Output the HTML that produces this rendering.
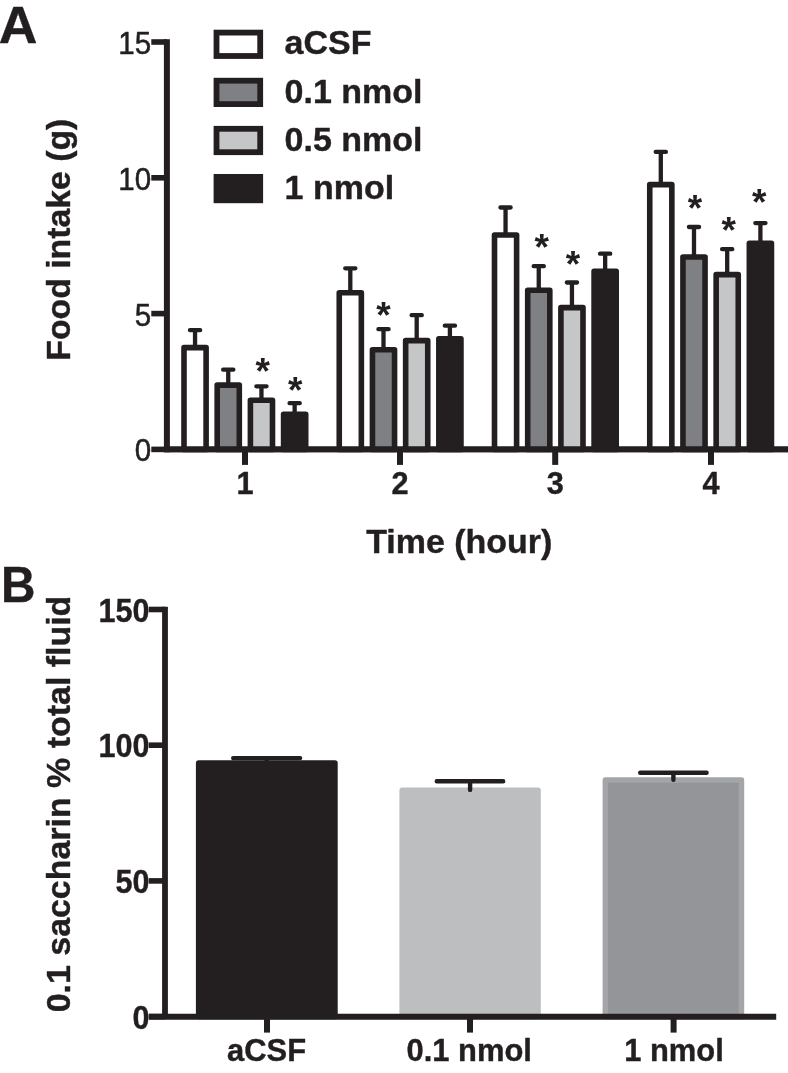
<!DOCTYPE html>
<html lang="en"><head><meta charset="utf-8"><title>Figure</title>
<style>html,body{margin:0;padding:0;background:#fff;}svg{display:block;will-change:transform;}text{font-family:'Liberation Sans', sans-serif;fill:#231f20;stroke:#231f20;stroke-width:0.5px;stroke-linejoin:round;}.b{font-weight:bold;stroke-width:0.4px;}.s{font-weight:bold;stroke:none;}</style></head><body>
<svg width="788" height="1073" viewBox="0 0 788 1073">
<rect width="788" height="1073" fill="#fff"/>
<text class="b" transform="translate(-1.20 42.60) scale(1.0300 1)" font-size="52.00" text-anchor="start">A</text>
<g stroke="#231f20" fill="none">
<path stroke-width="6.0" d="M166.90 39.20 V452.20"/>
<path stroke-width="5.6" d="M151.3 449.40 H166.90"/>
<path stroke-width="5.6" d="M151.3 313.60 H166.90"/>
<path stroke-width="5.6" d="M151.3 177.80 H166.90"/>
<path stroke-width="5.6" d="M151.3 42.00 H166.90"/>
<path stroke-width="5.6" d="M166.90 449.40 H788"/>
<path stroke-width="6.0" d="M245.00 449.40 V464.9"/>
<path stroke-width="6.0" d="M400.00 449.40 V464.9"/>
<path stroke-width="6.0" d="M555.20 449.40 V464.9"/>
<path stroke-width="6.0" d="M711.00 449.40 V464.9"/>
</g>
<text transform="translate(151.20 461.30) scale(0.9150 1)" font-size="32.30" text-anchor="end">0</text>
<text transform="translate(151.20 325.50) scale(0.9150 1)" font-size="32.30" text-anchor="end">5</text>
<text transform="translate(151.20 189.70) scale(0.9150 1)" font-size="32.30" text-anchor="end">10</text>
<text transform="translate(151.20 53.90) scale(0.9150 1)" font-size="32.30" text-anchor="end">15</text>
<text class="b" transform="translate(245.00 493.80) scale(0.9650 1)" font-size="31.80" text-anchor="middle">1</text>
<text class="b" transform="translate(400.00 493.80) scale(0.9650 1)" font-size="31.80" text-anchor="middle">2</text>
<text class="b" transform="translate(555.20 493.80) scale(0.9650 1)" font-size="31.80" text-anchor="middle">3</text>
<text class="b" transform="translate(711.00 493.80) scale(0.9650 1)" font-size="31.80" text-anchor="middle">4</text>
<text class="b" transform="translate(459.20 553.30) scale(1.0200 1)" font-size="33.30" text-anchor="middle">Time (hour)</text>
<text class="b" transform="translate(69.50 239.70) rotate(-90) scale(0.9940 1)" font-size="34.00" text-anchor="middle">Food intake (g)</text>
<rect x="216.50" y="32.60" width="43.7" height="23.4" fill="#fff" stroke="#231f20" stroke-width="5.8"/>
<text class="b" transform="translate(284.60 54.40) scale(1.0180 1)" font-size="33.40" text-anchor="start">aCSF</text>
<rect x="216.50" y="80.70" width="43.7" height="23.4" fill="#7e8083" stroke="#231f20" stroke-width="5.8"/>
<text class="b" transform="translate(284.60 102.50) scale(1.0180 1)" font-size="33.40" text-anchor="start">0.1 nmol</text>
<rect x="216.50" y="128.80" width="43.7" height="23.4" fill="#c5c6c8" stroke="#231f20" stroke-width="5.8"/>
<text class="b" transform="translate(284.60 150.60) scale(1.0180 1)" font-size="33.40" text-anchor="start">0.5 nmol</text>
<rect x="216.50" y="176.90" width="43.7" height="23.4" fill="#231f20" stroke="#231f20" stroke-width="5.8"/>
<text class="b" transform="translate(284.60 198.70) scale(1.0180 1)" font-size="33.40" text-anchor="start">1 nmol</text>
<path d="M195.05 346.80 V330.20 M189.95 330.20 H200.15" stroke="#231f20" stroke-width="4.3" stroke-linecap="round" fill="none"/>
<rect x="184.00" y="347.60" width="22.10" height="101.80" fill="#fff" stroke="#231f20" stroke-width="5.6" stroke-linejoin="round"/>
<path d="M228.25 384.30 V369.70 M223.15 369.70 H233.35" stroke="#231f20" stroke-width="4.3" stroke-linecap="round" fill="none"/>
<rect x="217.20" y="385.10" width="22.10" height="64.30" fill="#7e8083" stroke="#231f20" stroke-width="5.6" stroke-linejoin="round"/>
<path d="M261.45 399.40 V386.30 M256.35 386.30 H266.55" stroke="#231f20" stroke-width="4.3" stroke-linecap="round" fill="none"/>
<rect x="250.40" y="400.20" width="22.10" height="49.20" fill="#c5c6c8" stroke="#231f20" stroke-width="5.6" stroke-linejoin="round"/>
<path d="M294.65 413.50 V403.20 M289.55 403.20 H299.75" stroke="#231f20" stroke-width="4.3" stroke-linecap="round" fill="none"/>
<rect x="283.60" y="414.30" width="22.10" height="35.10" fill="#231f20" stroke="#231f20" stroke-width="5.6" stroke-linejoin="round"/>
<path d="M350.30 291.90 V268.30 M345.20 268.30 H355.40" stroke="#231f20" stroke-width="4.3" stroke-linecap="round" fill="none"/>
<rect x="339.25" y="292.70" width="22.10" height="156.70" fill="#fff" stroke="#231f20" stroke-width="5.6" stroke-linejoin="round"/>
<path d="M383.50 349.00 V329.20 M378.40 329.20 H388.60" stroke="#231f20" stroke-width="4.3" stroke-linecap="round" fill="none"/>
<rect x="372.45" y="349.80" width="22.10" height="99.60" fill="#7e8083" stroke="#231f20" stroke-width="5.6" stroke-linejoin="round"/>
<path d="M416.70 339.80 V315.20 M411.60 315.20 H421.80" stroke="#231f20" stroke-width="4.3" stroke-linecap="round" fill="none"/>
<rect x="405.65" y="340.60" width="22.10" height="108.80" fill="#c5c6c8" stroke="#231f20" stroke-width="5.6" stroke-linejoin="round"/>
<path d="M449.90 338.00 V325.70 M444.80 325.70 H455.00" stroke="#231f20" stroke-width="4.3" stroke-linecap="round" fill="none"/>
<rect x="438.85" y="338.80" width="22.10" height="110.60" fill="#231f20" stroke="#231f20" stroke-width="5.6" stroke-linejoin="round"/>
<path d="M505.55 234.20 V207.50 M500.45 207.50 H510.65" stroke="#231f20" stroke-width="4.3" stroke-linecap="round" fill="none"/>
<rect x="494.50" y="235.00" width="22.10" height="214.40" fill="#fff" stroke="#231f20" stroke-width="5.6" stroke-linejoin="round"/>
<path d="M538.75 289.50 V266.20 M533.65 266.20 H543.85" stroke="#231f20" stroke-width="4.3" stroke-linecap="round" fill="none"/>
<rect x="527.70" y="290.30" width="22.10" height="159.10" fill="#7e8083" stroke="#231f20" stroke-width="5.6" stroke-linejoin="round"/>
<path d="M571.95 306.80 V282.50 M566.85 282.50 H577.05" stroke="#231f20" stroke-width="4.3" stroke-linecap="round" fill="none"/>
<rect x="560.90" y="307.60" width="22.10" height="141.80" fill="#c5c6c8" stroke="#231f20" stroke-width="5.6" stroke-linejoin="round"/>
<path d="M605.15 270.50 V253.70 M600.05 253.70 H610.25" stroke="#231f20" stroke-width="4.3" stroke-linecap="round" fill="none"/>
<rect x="594.10" y="271.30" width="22.10" height="178.10" fill="#231f20" stroke="#231f20" stroke-width="5.6" stroke-linejoin="round"/>
<path d="M660.80 183.80 V151.90 M655.70 151.90 H665.90" stroke="#231f20" stroke-width="4.3" stroke-linecap="round" fill="none"/>
<rect x="649.75" y="184.60" width="22.10" height="264.80" fill="#fff" stroke="#231f20" stroke-width="5.6" stroke-linejoin="round"/>
<path d="M694.00 256.20 V227.00 M688.90 227.00 H699.10" stroke="#231f20" stroke-width="4.3" stroke-linecap="round" fill="none"/>
<rect x="682.95" y="257.00" width="22.10" height="192.40" fill="#7e8083" stroke="#231f20" stroke-width="5.6" stroke-linejoin="round"/>
<path d="M727.20 273.80 V249.20 M722.10 249.20 H732.30" stroke="#231f20" stroke-width="4.3" stroke-linecap="round" fill="none"/>
<rect x="716.15" y="274.60" width="22.10" height="174.80" fill="#c5c6c8" stroke="#231f20" stroke-width="5.6" stroke-linejoin="round"/>
<path d="M760.40 242.50 V223.10 M755.30 223.10 H765.50" stroke="#231f20" stroke-width="4.3" stroke-linecap="round" fill="none"/>
<rect x="749.35" y="243.30" width="22.10" height="206.10" fill="#231f20" stroke="#231f20" stroke-width="5.6" stroke-linejoin="round"/>
<path d="M163.90 449.40 H788" stroke="#231f20" stroke-width="5.6" fill="none"/>
<text class="s" transform="translate(262.80 383.50) scale(1.0300 1)" font-size="36.00" text-anchor="middle">*</text>
<text class="s" transform="translate(295.30 402.70) scale(1.0300 1)" font-size="36.00" text-anchor="middle">*</text>
<text class="s" transform="translate(383.50 327.80) scale(1.0300 1)" font-size="36.00" text-anchor="middle">*</text>
<text class="s" transform="translate(541.60 260.10) scale(1.0300 1)" font-size="36.00" text-anchor="middle">*</text>
<text class="s" transform="translate(572.90 276.90) scale(1.0300 1)" font-size="36.00" text-anchor="middle">*</text>
<text class="s" transform="translate(695.00 220.70) scale(1.0300 1)" font-size="36.00" text-anchor="middle">*</text>
<text class="s" transform="translate(728.60 243.20) scale(1.0300 1)" font-size="36.00" text-anchor="middle">*</text>
<text class="s" transform="translate(759.30 215.10) scale(1.0300 1)" font-size="36.00" text-anchor="middle">*</text>
<text class="b" transform="translate(0.90 602.30) scale(0.9450 1)" font-size="50.50" text-anchor="start">B</text>
<g stroke="#231f20" fill="none">
<path stroke-width="5.8" d="M165.00 606.70 V1016.60"/>
<path stroke-width="5.6" d="M148.9 1016.60 H165.00"/>
<path stroke-width="5.6" d="M148.9 880.90 H165.00"/>
<path stroke-width="5.6" d="M148.9 745.20 H165.00"/>
<path stroke-width="5.6" d="M148.9 609.50 H165.00"/>
</g>
<text class="b" transform="translate(149.40 1028.60) scale(0.9050 1)" font-size="33.80" text-anchor="end">0</text>
<text class="b" transform="translate(149.40 892.90) scale(0.9050 1)" font-size="33.80" text-anchor="end">50</text>
<text class="b" transform="translate(149.40 757.20) scale(0.9050 1)" font-size="33.80" text-anchor="end">100</text>
<text class="b" transform="translate(149.40 621.50) scale(0.9050 1)" font-size="33.80" text-anchor="end">150</text>
<text class="b" transform="translate(69.90 804.00) rotate(-90) scale(1.0410 1)" font-size="32.60" text-anchor="middle">0.1 saccharin % total fluid</text>
<rect x="198.65" y="762.95" width="136.30" height="253.65" fill="#231f20" stroke="#231f20" stroke-width="5.5" stroke-linejoin="round"/>
<path d="M266.80 762.70 V758.10 M233.20 758.10 H300.10" stroke="#231f20" stroke-width="4.4" stroke-linecap="round" fill="none"/>
<rect x="402.15" y="790.15" width="135.90" height="226.45" fill="#bcbec0" stroke="#bcbec0" stroke-width="5.5" stroke-linejoin="round"/>
<path d="M470.10 789.90 V781.30 M436.80 781.30 H503.20" stroke="#231f20" stroke-width="4.4" stroke-linecap="round" fill="none"/>
<rect x="605.35" y="779.95" width="136.10" height="236.65" fill="#939598" stroke="#a3a5a8" stroke-width="5.5" stroke-linejoin="round"/>
<path d="M673.40 779.70 V772.80 M640.20 772.80 H706.60" stroke="#231f20" stroke-width="4.4" stroke-linecap="round" fill="none"/>
<g stroke="#231f20" fill="none">
<path stroke-width="5.9" d="M148.9 1016.70 H776.2"/>
<path stroke-width="6.0" d="M267.00 1016.60 V1032.6"/>
<path stroke-width="6.0" d="M470.00 1016.60 V1032.6"/>
<path stroke-width="6.0" d="M673.60 1016.60 V1032.6"/>
</g>
<text class="b" transform="translate(266.60 1060.80) scale(0.9780 1)" font-size="31.60" text-anchor="middle">aCSF</text>
<text class="b" transform="translate(469.20 1060.80) scale(0.9780 1)" font-size="31.60" text-anchor="middle">0.1 nmol</text>
<text class="b" transform="translate(674.00 1060.80) scale(0.9780 1)" font-size="31.60" text-anchor="middle">1 nmol</text>
</svg></body></html>
